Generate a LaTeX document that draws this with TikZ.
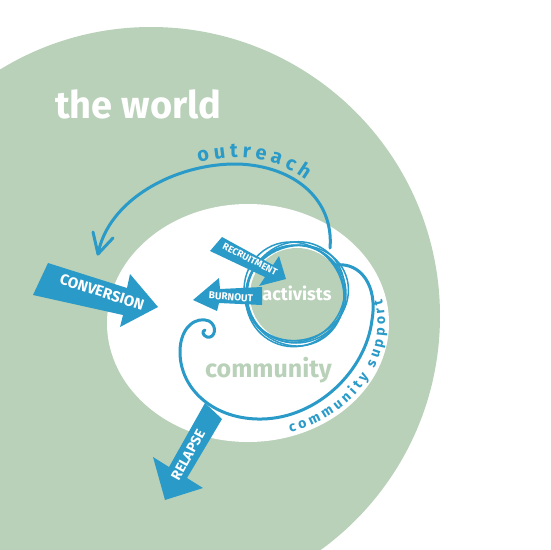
\documentclass[tikz,border=0pt]{standalone}
\usepackage{fontspec}
\setmainfont{Fira Sans}
\newcommand\medfont{\bfseries}
\usetikzlibrary{decorations.text}
\definecolor{worldgreen}{HTML}{B9D1B8}
\definecolor{flowblue}{HTML}{2A9AC8}
\begin{document}
\begin{tikzpicture}[x=1pt,y=-1pt,
  blockarrow/.style={fill=flowblue},
  arrowlabel/.style={text=white, font=\medfont\fontsize{#1}{#1}\selectfont, inner sep=0pt},
  flowline/.style={draw=flowblue, line width=3pt, line cap=round, line join=round},
  ring/.style={draw=flowblue, line width=1.5pt},
  bigword/.style={inner sep=0pt, anchor=base west, font=\medfont\fontsize{#1}{#1}\selectfont},
]
\useasboundingbox (0,0) rectangle (550,550);
\begin{scope}
  \clip (0,0) rectangle (550,550);
  \fill[worldgreen] (151,316) circle[radius=289pt];
\end{scope}
\fill[white] (248,323) ellipse[x radius=141pt, y radius=119pt];

% activists circle
\coordinate (actc) at (296,294);
\fill[worldgreen] (297,295) circle[radius=47pt];
\draw[ring] (actc) ellipse[x radius=50pt, y radius=49pt];
\draw[ring, rotate around={20:(297,293)}] (297,293) ellipse[x radius=52pt, y radius=47pt];
\draw[ring, rotate around={-25:(295,296)}] (295,296) ellipse[x radius=49pt, y radius=51pt];
\draw[ring, rotate around={60:(296,292)}] (296,292) ellipse[x radius=51pt, y radius=48pt];
\draw[ring, rotate around={-60:(294,294)}] (294,294) ellipse[x radius=53pt, y radius=49pt];

% outreach curve
\coordinate (outStart) at (330,248);
\coordinate (outTop) at (238,164);
\coordinate (outTip) at (98,254);
\coordinate (armL) at (93,232);
\coordinate (armR) at (113,238);
\draw[flowline] (outStart) .. controls (334,200) and (295,166) .. (outTop)
  .. controls (175,163) and (108,200) .. (outTip);
\draw[flowline] (armL) -- (outTip) -- (armR);
\path[decorate, decoration={text along path, text align={fit to path}, text color=flowblue,
  text={|\medfont\fontsize{20}{20}\selectfont|outreach}}]
  (199,163) .. controls (235,152) and (275,157) .. (306,180);

% community support curve
\coordinate (supStart) at (336,265);
\coordinate (supEnd) at (205,330);
\draw[flowline] (supStart) .. controls (360,262) and (378,285) .. (372,320)
  .. controls (366,370) and (318,418) .. (262,419)
  .. controls (215,420) and (180,390) .. (180,352)
  .. controls (180,326) and (197,316) .. (209,321)
  .. controls (218,326) and (215,339) .. (207,337)
  .. controls (202,335) and (202,331) .. (supEnd);
\path[decorate, decoration={text along path, text align={fit to path}, text color=flowblue,
  text={|\medfont\fontsize{14}{14}\selectfont|community support}}]
  (290.3,432.4) arc[start angle=-72, end angle=12, x radius=137pt, y radius=115pt];

% block arrows
\fill[blockarrow] (48,263) -- (127,288) -- (130,274) -- (158,307) -- (120,327) -- (123,315) -- (33,295) -- cycle;
\node[arrowlabel=15, rotate=-18] (conv) at (102,292) {CONVERSION};

\fill[blockarrow] (205,403) -- (222,419) -- (187,478) -- (203,488) -- (165,500) -- (153,457) -- (169,467) -- cycle;
\node[arrowlabel=14, rotate=61] (relapse) at (188,455) {RELAPSE};

\fill[blockarrow] (222,237) -- (273,265) -- (279,256) -- (286,279) -- (259,286) -- (265,277) -- (210,251) -- cycle;
\node[arrowlabel=9.5, rotate=-27] (recruit) at (250,259) {RECRUITMENT};

\fill[blockarrow] (262,287) -- (220,289) -- (219,278) -- (193,300) -- (217,311) -- (219,303) -- (262,305) -- cycle;
\node[arrowlabel=10, rotate=-4] (burnout) at (231,297) {BURNOUT};

% words
\node[bigword=38, text=white] (world) at (55,118) {the world};
\node[inner sep=0pt, anchor=base, text=white, font=\medfont\fontsize{18}{18}\selectfont] (act) at (297,300) {activists};
\node[bigword=25, text=worldgreen] (comm) at (205,377) {community};
\end{tikzpicture}
\end{document}
